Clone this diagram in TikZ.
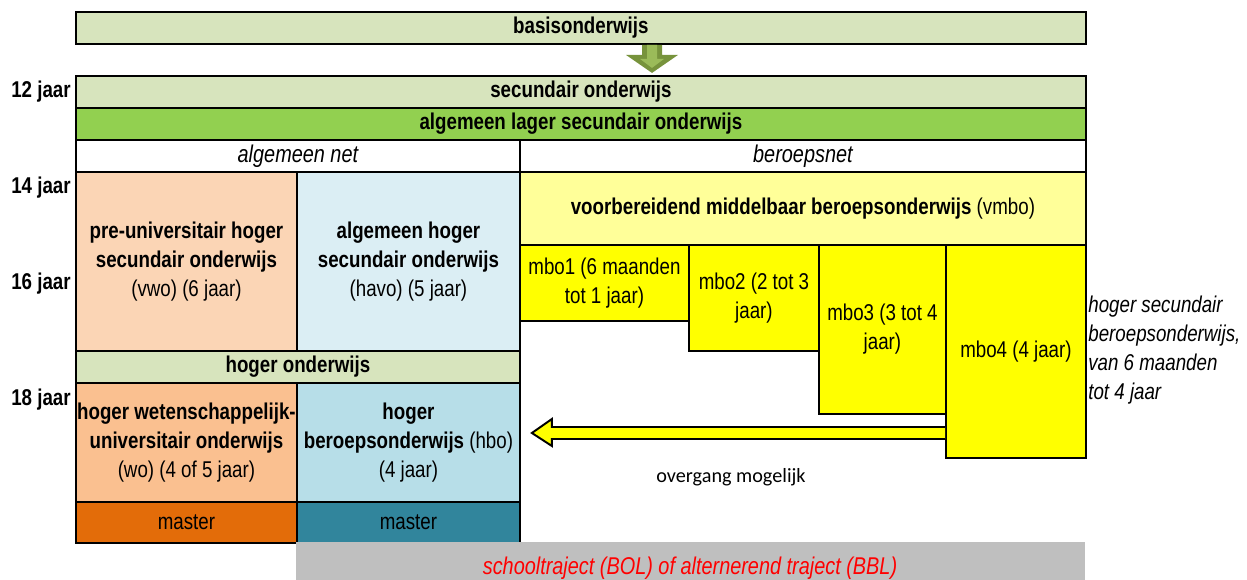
\documentclass[tikz,border=0pt]{standalone}
\usepackage{fontspec}
\setmainfont{Liberation Sans}[FakeStretch=0.82]
\newfontfamily\calfont{Carlito}
\usetikzlibrary{calc}

\definecolor{lgreen}{HTML}{D7E4BD}
\definecolor{mgreen}{HTML}{92D050}
\definecolor{peach}{HTML}{FBD5B5}
\definecolor{lblue}{HTML}{DBEEF4}
\definecolor{lyellow}{HTML}{FFFF99}
\definecolor{yel}{HTML}{FFFF00}
\definecolor{opeach}{HTML}{FAC090}
\definecolor{mblue}{HTML}{B7DEE8}
\definecolor{dorange}{HTML}{E36C09}
\definecolor{teal}{HTML}{31859C}
\definecolor{band}{HTML}{BFBFBF}
\definecolor{olive}{HTML}{77933C}
\definecolor{olivel}{HTML}{9BBB59}

\newcommand{\boxfont}{\fontsize{13}{16.4}\selectfont}
\newcommand{\itfont}{\fontsize{13.8}{16.4}\selectfont\itshape}

\begin{document}
\begin{tikzpicture}[x=0.02cm,y=-0.02cm,
    box/.style={draw,line width=1.1pt,anchor=north west,inner sep=0pt,align=center,font=\boxfont},
    head/.style={box,font=\boxfont\bfseries},
    age/.style={anchor=east,inner sep=0pt,font=\boxfont\bfseries},
    note/.style={anchor=west,inner sep=0pt,align=left,font=\boxfont\itshape}]
\useasboundingbox (0,0) rectangle (1247,580);

% top rows
\node[head,fill=lgreen,minimum width=20.2cm,minimum height=0.64cm] (basis) at (75,11) {basisonderwijs};
\node[head,fill=lgreen,minimum width=20.2cm,minimum height=0.64cm] (secund) at (75,75) {secundair onderwijs};
\node[head,fill=mgreen,minimum width=20.2cm,minimum height=0.64cm] (lager) at (75,107) {algemeen lager secundair onderwijs};
\node[box,font=\itfont,minimum width=8.88cm,minimum height=0.64cm] (algnet) at (75,139) {algemeen net};
\node[box,font=\itfont,minimum width=11.32cm,minimum height=0.64cm] (beroepsnet) at (519,139) {beroepsnet};

% algemeen net
\node[box,fill=peach,minimum width=4.42cm,minimum height=3.58cm] (vwo) at (75,171)
    {\textbf{pre-universitair hoger}\\\textbf{secundair onderwijs}\\(vwo) (6 jaar)};
\node[box,fill=lblue,minimum width=4.46cm,minimum height=3.58cm] (havo) at (296,171)
    {\textbf{algemeen hoger}\\\textbf{secundair onderwijs}\\(havo) (5 jaar)};
\node[head,fill=lgreen,minimum width=8.88cm,minimum height=0.64cm] (hoger) at (75,350) {hoger onderwijs};
\node[box,fill=opeach,minimum width=4.42cm,minimum height=2.38cm] (wo) at (75,382)
    {\textbf{hoger wetenschappelijk-}\\\textbf{universitair onderwijs}\\(wo) (4 of 5 jaar)};
\node[box,fill=mblue,minimum width=4.46cm,minimum height=2.38cm] (hbo) at (296,382)
    {\textbf{hoger}\\\textbf{beroepsonderwijs} (hbo)\\(4 jaar)};
\node[box,fill=dorange,minimum width=4.42cm,minimum height=0.82cm] (mwo) at (75,501) {master};
\node[box,fill=teal,minimum width=4.46cm,minimum height=0.82cm] (mhbo) at (296,501) {master};

% beroepsnet
\node[box,fill=lyellow,minimum width=11.32cm,minimum height=1.46cm] (vmbo) at (519,171)
    {\textbf{voorbereidend middelbaar beroepsonderwijs} (vmbo)};
\node[box,fill=yel,minimum width=3.38cm,minimum height=1.52cm] (mbo1) at (519,244) {mbo1 (6 maanden\\tot 1 jaar)};
\node[box,fill=yel,minimum width=2.6cm,minimum height=2.12cm] (mbo2) at (688,244) {mbo2 (2 tot 3\\jaar)};
\node[box,fill=yel,minimum width=2.54cm,minimum height=3.38cm] (mbo3) at (818,244) {mbo3 (3 tot 4\\jaar)};
\node[box,fill=yel,minimum width=2.8cm,minimum height=4.26cm] (mbo4) at (945,244) {mbo4 (4 jaar)};
\node[note] (hsb) at (1088,350) {hoger secundair\\beroepsonderwijs,\\van 6 maanden\\tot 4 jaar};

% ages
\node[age] (j12) at (71,92) {12 jaar};
\node[age] (j14) at (71,188) {14 jaar};
\node[age] (j16) at (71,284) {16 jaar};
\node[age] (j18) at (71,400) {18 jaar};

% arrow basis -> secundair
\coordinate (gtop) at (basis.south -| 652,0);
\fill[olive] ($(gtop)+(-10,0)$) -- ($(gtop)+(10,0)$) -- ($(gtop)+(10,10)$) -- ($(gtop)+(26,10)$)
    -- ($(gtop)+(0,28)$) -- ($(gtop)+(-26,10)$) -- ($(gtop)+(-10,10)$) -- cycle;
\fill[olivel] ($(gtop)+(-5,0)$) -- ($(gtop)+(5,0)$) -- ($(gtop)+(5,14)$) -- ($(gtop)+(12,14)$)
    -- ($(gtop)+(0,23)$) -- ($(gtop)+(-12,14)$) -- ($(gtop)+(-5,14)$) -- cycle;

% overgang mbo4 -> hbo
\coordinate (ostart) at (mbo4.west |- 0,433);
\coordinate (oend) at (hbo.east |- 0,433);
\filldraw[fill=yel,line width=1.1pt,line join=miter] ($(ostart)+(0,-6)$) -- ($(oend)+(31,-6)$) -- ($(oend)+(31,-14)$)
    -- ($(oend)+(11,0)$) -- ($(oend)+(31,13)$) -- ($(oend)+(31,6)$) -- ($(ostart)+(0,6)$);
\node[font=\calfont\fontsize{11.5}{14}\selectfont] (overg) at (731,477) {overgang mogelijk};

% bottom band
\node[fill=band,anchor=north west,inner sep=0pt,minimum width=15.78cm,minimum height=0.8cm] (traject) at (296,542) {};
\node[text=red,font=\itfont] (trajtxt) at (690,568) {schooltraject (BOL) of alternerend traject (BBL)};
\end{tikzpicture}
\end{document}
